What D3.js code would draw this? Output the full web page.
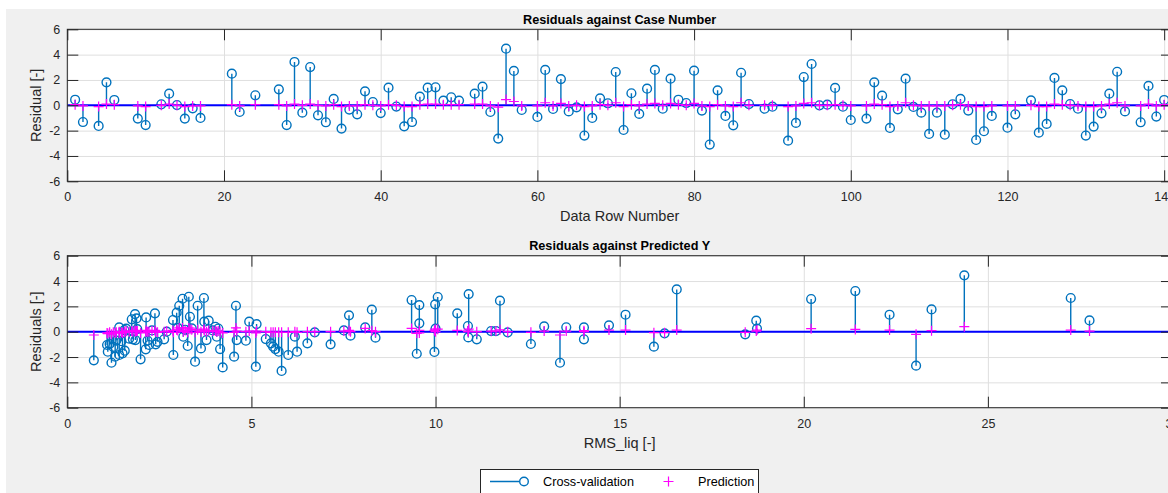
<!DOCTYPE html>
<html>
<head>
<meta charset="utf-8">
<script src="https://cdn.jsdelivr.net/npm/d3@7"></script>
<style>
  body { margin: 0; background: #ffffff; }
  svg { display: block; font-family: Arial, "Liberation Sans", Helvetica, sans-serif; }
</style>
</head>
<body>
<svg id="fig" width="1168" height="493"></svg>
<script>
// ---- Residuals by data row ----
const rowNumbers = [1,2,4,5,6,9,10,12,13,14,15,16,17,21,22,24,27,28,29,30,31,32,33,34,35,36,37,38,39,40,
  41,42,43,44,45,46,47,48,49,50,52,53,54,55,56,57,58,60,61,62,63,64,65,66,67,68,69,70,71,72,
  73,74,75,76,77,78,79,80,81,82,83,84,85,86,87,89,90,92,93,94,95,96,97,98,99,100,102,103,104,105,
  106,107,108,109,110,111,112,113,114,115,116,117,118,120,121,123,124,125,126,127,128,129,130,131,132,133,134,135,137,138,
  139,140];
const rowResidualCV = [0.44,-1.32,-1.63,1.81,0.42,-1.05,-1.56,0.08,0.92,0.02,-1.05,-0.24,-1.0,2.5,-0.53,0.79,1.26,-1.56,3.42,-0.58,
  3.02,-0.79,-1.34,0.5,-1.84,-0.34,-0.71,1.1,0.26,-0.61,1.39,-0.1,-1.66,-1.32,0.68,1.39,1.42,0.37,0.63,0.37,
  0.92,1.47,-0.53,-2.63,4.47,2.71,-0.37,-0.92,2.79,-0.29,2.07,-0.48,-0.16,-2.39,-1.0,0.55,0.16,2.63,-1.95,0.95,
  -0.68,1.31,2.79,-0.27,2.1,0.44,0.18,2.73,-0.42,-3.1,1.18,-0.84,-1.58,2.57,0.1,-0.27,-0.11,-2.79,-1.39,2.23,
  3.26,0.0,0.05,1.37,-0.11,-1.16,-1.05,1.81,0.76,-1.79,-0.32,2.1,-0.13,-0.58,-2.26,-0.58,-2.32,0.08,0.5,-0.42,
  -2.74,-2.05,-0.84,-1.77,-0.71,0.39,-2.16,-1.47,2.16,1.18,0.1,-0.27,-2.39,-1.68,-0.63,0.92,2.65,-0.48,-1.34,1.53,
  -0.89,0.42];
const rowResidualPred = [0.05,-0.05,-0.1,0.1,0.05,-0.05,-0.1,0.0,0.1,0.0,-0.1,-0.05,-0.05,0.05,-0.05,0.05,0.05,-0.05,0.1,0.0,
  0.1,0.0,-0.05,0.05,-0.1,-0.05,-0.05,0.05,0.0,-0.05,0.05,0.0,-0.1,-0.1,0.05,0.1,0.1,0.05,0.05,0.05,
  0.1,0.1,-0.05,-0.15,0.45,0.3,-0.05,-0.05,0.2,-0.05,0.15,-0.05,0.0,-0.1,-0.05,0.05,0.0,0.2,-0.1,0.05,
  -0.05,0.1,0.15,0.0,0.15,0.05,0.0,0.15,-0.05,-0.1,0.05,-0.05,-0.1,0.2,0.0,0.0,0.0,-0.1,-0.05,0.15,
  0.2,0.0,0.0,0.05,0.0,-0.05,-0.05,0.1,0.05,-0.1,-0.05,0.2,0.0,-0.05,-0.05,-0.05,-0.05,0.0,0.05,-0.05,
  -0.1,-0.1,-0.05,-0.05,-0.05,0.0,-0.1,-0.1,0.1,0.05,0.0,-0.05,-0.1,-0.1,-0.05,0.1,0.2,-0.05,-0.05,0.1,
  -0.05,0.05];

// ---- Residuals by predicted RMS_liq ----
const predictedY = [0.72,1.08,1.1,1.15,1.2,1.25,1.3,1.33,1.41,1.41,1.47,1.5,1.55,1.56,1.6,1.68,1.75,1.78,1.84,1.88,
  1.85,1.9,1.99,2.14,2.13,2.18,2.22,2.3,2.38,2.4,2.45,2.63,2.7,2.87,2.88,2.97,3.0,3.04,3.13,3.15,
  3.2,3.27,3.3,3.33,3.38,3.47,3.54,3.63,3.71,3.72,3.78,3.84,3.95,4.02,4.06,4.1,4.15,4.22,4.53,4.58,
  4.6,4.85,4.94,5.12,5.14,5.39,5.53,5.59,5.65,5.74,
  5.82,6.0,6.18,6.24,6.52,6.72,7.15,7.51,7.65,7.69,8.09,8.27,8.37,9.35,9.49,9.56,9.56,9.97,9.99,10.0,
  10.06,10.59,10.88,10.89,10.9,11.12,11.51,11.64,11.75,11.96,12.59,12.95,13.38,13.55,14.03,14.03,14.71,15.16,15.93,16.22,
  16.55,18.41,18.71,18.73,20.2,21.4,22.33,23.05,23.47,24.36,27.25,27.76];
const predResidualCV = [-2.26,-1.05,-1.58,-0.97,-2.45,-1.2,-1.97,-0.7,0.34,-1.84,-0.75,-1.71,0.13,-1.5,0.24,-0.55,0.98,-0.6,1.39,1.05,
  -0.66,0.2,-2.18,1.13,-1.39,-0.7,-1.05,0.1,1.45,-1.0,-0.8,-0.6,0.0,0.92,-1.84,1.5,0.3,2.05,2.6,-0.4,
  0.15,-1.13,2.76,1.18,0.26,-2.37,2.05,-1.32,2.66,0.79,-0.66,0.87,0.1,0.39,-0.4,0.25,-1.37,-2.82,-1.97,2.05,
  -0.66,-0.71,0.79,-2.76,0.6,-0.58,-0.92,-1.18,-1.37,-1.58,
  -3.1,-1.84,-0.39,-1.58,-0.92,-0.05,-1.0,0.1,1.29,-0.31,0.34,1.74,-0.47,2.5,-1.74,2.1,0.66,-1.6,2.16,0.24,
  2.74,1.45,0.45,-0.45,2.97,-0.6,0.05,0.05,2.45,-0.05,-0.97,0.42,-2.45,0.35,0.34,-0.6,0.5,1.34,-1.18,-0.13,
  3.34,-0.21,0.87,0.24,2.58,3.21,1.34,-2.68,1.76,4.45,2.66,0.89];
const predResidualPred = [-0.26,-0.1,-0.15,-0.05,-0.2,-0.05,-0.1,-0.05,0.0,-0.1,-0.05,-0.1,0.0,-0.05,0.05,0.0,0.05,0.0,0.1,0.05,
  0.0,0.05,-0.1,0.1,-0.05,0.0,0.0,0.05,0.1,0.0,-0.05,0.0,0.05,0.1,-0.05,0.15,0.1,0.3,0.3,0.0,
  0.1,-0.05,0.3,0.2,0.15,-0.05,0.15,0.0,0.2,0.1,0.0,0.1,0.05,0.05,0.0,0.05,-0.05,-0.1,-0.05,0.3,
  0.05,0.0,0.05,-0.1,0.05,0.0,-0.05,-0.05,-0.05,-0.05,
  -0.05,-0.05,0.0,-0.05,0.0,0.0,0.0,0.05,0.1,0.0,0.26,0.08,0.0,0.26,-0.13,0.1,-0.1,0.1,0.2,0.0,
  0.2,0.1,0.05,0.0,0.2,0.0,0.05,0.05,0.15,0.0,-0.05,0.05,-0.26,0.05,0.08,0.0,0.13,0.13,-0.08,-0.08,
  0.13,-0.05,0.05,0.13,0.24,0.18,0.13,-0.21,0.08,0.4,0.13,0.05];

const rowTicks = [0, 20, 40, 60, 80, 100, 120, 140];
const predTicks = [0, 5, 10, 15, 20, 25, 30];
const residualTicks = [-6, -4, -2, 0, 2, 4, 6];

const C_STEM = "#0072bd";
const C_PRED = "#ff00ff";
const C_AXIS = "#262626";
const C_GRID = "#dfdfdf";
const TICK_LEN = 11;
const plainNumber = d => String(d);

const svg = d3.select("#fig");

// figure background
svg.append("rect").attr("x", 6).attr("y", 9).attr("width", 1162).attr("height", 484).attr("fill", "#f0f0f0");

svg.append("defs").selectAll("clipPath")
  .data([{ id: "clipTop", y: 29.3, h: 152 }, { id: "clipBottom", y: 255.7, h: 152 }])
  .join("clipPath").attr("id", d => d.id)
  .append("rect").attr("x", 67.3).attr("y", d => d.y).attr("width", 1104.7).attr("height", d => d.h);

function drawPanel(cfg) {
  const { left, right, top, bottom } = cfg.box;
  const x = d3.scaleLinear().domain(cfg.xDomain).range([left, right]);
  const y = d3.scaleLinear().domain([-6, 6]).range([bottom, top]);
  const w = right - left, h = bottom - top;
  const g = svg.append("g");

  g.append("rect").attr("x", left).attr("y", top).attr("width", w).attr("height", h).attr("fill", "#ffffff");

  // grid
  const gridX = g.append("g").attr("transform", `translate(0,${bottom})`)
    .call(d3.axisBottom(x).tickValues(cfg.xTicks).tickSize(-h).tickFormat(""));
  const gridY = g.append("g").attr("transform", `translate(${left},0)`)
    .call(d3.axisLeft(y).tickValues(residualTicks).tickSize(-w).tickFormat(""));
  [gridX, gridY].forEach(s => {
    s.select(".domain").remove();
    s.selectAll("line").attr("stroke", C_GRID).attr("stroke-width", 1);
  });

  const data = g.append("g").attr("clip-path", `url(#${cfg.clip})`);
  const pts = cfg.xs.map((v, i) => ({ x: v, cv: cfg.cv[i], pr: cfg.pr[i] }));

  // cross-validation stems
  data.append("g").selectAll("line").data(pts).join("line")
    .attr("x1", d => x(d.x)).attr("x2", d => x(d.x))
    .attr("y1", y(0)).attr("y2", d => y(d.cv))
    .attr("stroke", C_STEM).attr("stroke-width", 1.4);
  data.append("g").selectAll("circle").data(pts).join("circle")
    .attr("cx", d => x(d.x)).attr("cy", d => y(d.cv)).attr("r", 4.4)
    .attr("fill", "none").attr("stroke", C_STEM).attr("stroke-width", 1.4);

  // zero reference
  data.append("line").attr("x1", left).attr("x2", right).attr("y1", y(0)).attr("y2", y(0))
    .attr("stroke", "#0000ff").attr("stroke-width", 2);

  // prediction markers
  data.append("g").selectAll("path").data(pts).join("path")
    .attr("d", d => {
      const px = x(d.x), py = y(d.pr), s = 5;
      return `M${px - s},${py}H${px + s}M${px},${py - s}V${py + s}`;
    })
    .attr("stroke", C_PRED).attr("stroke-width", 1.2).attr("fill", "none");

  // box
  g.append("rect").attr("x", left).attr("y", top).attr("width", w).attr("height", h)
    .attr("fill", "none").attr("stroke", C_AXIS).attr("stroke-width", 1);

  // tick labels and inward ticks
  const font = s => s.attr("font-family", "Arial, 'Liberation Sans', sans-serif").attr("font-size", "12.5px").attr("fill", C_AXIS);
  const xb = g.append("g").attr("transform", `translate(0,${bottom})`)
    .call(d3.axisBottom(x).tickValues(cfg.xTicks).tickSize(-TICK_LEN).tickPadding(11).tickFormat(plainNumber));
  const xt = g.append("g").attr("transform", `translate(0,${top})`)
    .call(d3.axisTop(x).tickValues(cfg.xTicks).tickSize(-TICK_LEN).tickFormat(""));
  const yl = g.append("g").attr("transform", `translate(${left},0)`)
    .call(d3.axisLeft(y).tickValues(residualTicks).tickSize(-TICK_LEN).tickPadding(7).tickFormat(plainNumber));
  const yr = g.append("g").attr("transform", `translate(${right},0)`)
    .call(d3.axisRight(y).tickValues(residualTicks).tickSize(-TICK_LEN).tickFormat(""));
  [xb, xt, yl, yr].forEach(s => {
    s.select(".domain").remove();
    s.selectAll("line").attr("stroke", C_AXIS).attr("stroke-width", 1);
    s.selectAll("text").call(font);
  });

  // title and labels
  const cx = (left + right) / 2;
  g.append("text").attr("x", cx).attr("y", top - 10).attr("dy", "0.35em")
    .attr("text-anchor", "middle").attr("font-weight", "bold").attr("font-size", "12.7px").attr("fill", "#000")
    .text(cfg.title);
  g.append("text").attr("x", cx).attr("y", bottom + 35).attr("dy", "0.35em")
    .attr("text-anchor", "middle").attr("font-size", "14.5px").attr("fill", C_AXIS)
    .text(cfg.xLabel);
  g.append("text").attr("transform", `translate(35.5,${(top + bottom) / 2}) rotate(-90)`).attr("dy", "0.35em")
    .attr("text-anchor", "middle").attr("font-size", "14.5px").attr("fill", C_AXIS)
    .text(cfg.yLabel);
}

drawPanel({
  box: { left: 67.3, right: 1172, top: 29.3, bottom: 181.3 },
  clip: "clipTop",
  xDomain: [0, 141], xTicks: rowTicks,
  xs: rowNumbers, cv: rowResidualCV, pr: rowResidualPred,
  title: "Residuals against Case Number", xLabel: "Data Row Number", yLabel: "Residual [-]"
});

drawPanel({
  box: { left: 67.3, right: 1172, top: 255.7, bottom: 407.7 },
  clip: "clipBottom",
  xDomain: [0, 30], xTicks: predTicks,
  xs: predictedY, cv: predResidualCV, pr: predResidualPred,
  title: "Residuals against Predicted Y", xLabel: "RMS_liq [-]", yLabel: "Residuals [-]"
});

// legend
const lg = svg.append("g");
lg.append("rect").attr("x", 480.5).attr("y", 469.5).attr("width", 278).attr("height", 25)
  .attr("fill", "#ffffff").attr("stroke", C_AXIS).attr("stroke-width", 1);
lg.append("line").attr("x1", 490).attr("x2", 524).attr("y1", 481.5).attr("y2", 481.5)
  .attr("stroke", C_STEM).attr("stroke-width", 1.4);
lg.append("circle").attr("cx", 524).attr("cy", 481.5).attr("r", 4.3)
  .attr("fill", "#ffffff").attr("stroke", C_STEM).attr("stroke-width", 1.4);
lg.append("text").attr("x", 543).attr("y", 481.5).attr("dy", "0.35em")
  .attr("font-size", "12.7px").attr("fill", "#000").text("Cross-validation");
lg.append("path").attr("d", "M663.5,481.5H673.5M668.5,476.5V486.5")
  .attr("stroke", C_PRED).attr("stroke-width", 1.2);
lg.append("text").attr("x", 698).attr("y", 481.5).attr("dy", "0.35em")
  .attr("font-size", "12.7px").attr("fill", "#000").text("Prediction");
</script>
</body>
</html>
